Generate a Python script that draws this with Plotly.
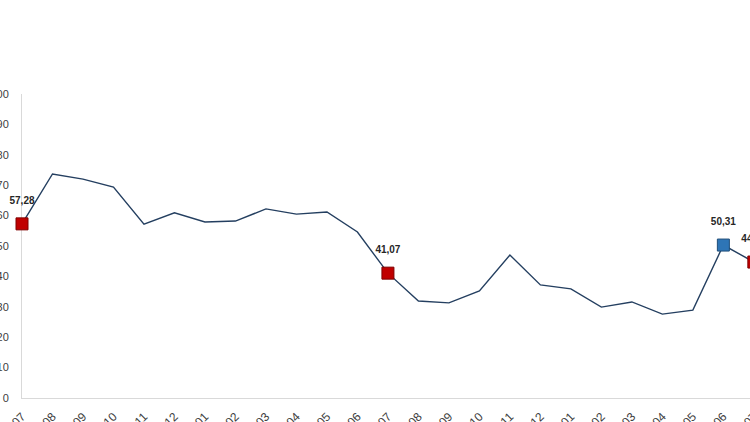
import plotly.graph_objects as go

# Period labels (only the month suffix is visible in the reference)
periods = ["2022-07", "2022-08", "2022-09", "2022-10", "2022-11", "2022-12",
           "2023-01", "2023-02", "2023-03", "2023-04", "2023-05", "2023-06",
           "2023-07", "2023-08", "2023-09", "2023-10", "2023-11", "2023-12",
           "2024-01", "2024-02", "2024-03", "2024-04", "2024-05", "2024-06",
           "2024-07"]
values = [57.28, 73.7, 72.0, 69.4, 57.2, 60.9, 57.9, 58.2, 62.2, 60.5, 61.2, 54.6,
          41.07, 31.9, 31.3, 35.2, 47.0, 37.2, 35.9, 29.9, 31.6, 27.6, 28.9,
          50.31, 44.72]

# Highlighted points: index and colour
highlight_idx = [0, 12, 23, 24]
highlight_fill = ["#C00000", "#C00000", "#2E75B6", "#C00000"]
highlight_edge = ["#7F0000", "#7F0000", "#1F4E79", "#7F0000"]

y_ticks = list(range(0, 101, 10))

x = list(range(len(periods)))

fig = go.Figure()

fig.add_trace(go.Scatter(
    x=x, y=values, mode="lines",
    line=dict(color="#243F60", width=1.4),
    hoverinfo="skip", showlegend=False,
))

hx = [x[i] for i in highlight_idx]
hy = [values[i] for i in highlight_idx]
fig.add_trace(go.Scatter(
    x=hx, y=hy, mode="markers",
    marker=dict(symbol="square", size=12, color=highlight_fill,
                line=dict(color=highlight_edge, width=1)),
    cliponaxis=False, showlegend=False, hoverinfo="skip",
))

# labels (invisible large marker pushes text up)
fig.add_trace(go.Scatter(
    x=hx, y=hy, mode="markers+text",
    marker=dict(size=26, color="rgba(0,0,0,0)"),
    text=[f"{v:.2f}".replace(".", ",") for v in hy],
    textposition="top center",
    textfont=dict(family="Liberation Sans, Arial, sans-serif", size=10,
                  color="#262626", weight="bold"),
    cliponaxis=False, showlegend=False, hoverinfo="skip",
))

fig.update_xaxes(
    range=[0, 24.3],
    tickmode="array", tickvals=x, ticktext=periods,
    tickangle=-45,
    tickfont=dict(family="Liberation Sans, Arial, sans-serif", size=12, color="#404040"),
    showgrid=False, zeroline=False,
    showline=True, linecolor="#D9D9D9", linewidth=1,
    ticks="", ticklabelstandoff=6, ticklabeloverflow="allow",
    layer="below traces",
)
fig.update_yaxes(
    range=[0, 100],
    tickmode="array", tickvals=y_ticks, ticktext=[str(t) for t in y_ticks],
    tickfont=dict(family="Liberation Sans, Arial, sans-serif", size=11, color="#404040"),
    showgrid=False, zeroline=False,
    showline=True, linecolor="#D9D9D9", linewidth=1,
    ticks="", ticklabelstandoff=10, ticklabeloverflow="allow",
    layer="below traces",
)

fig.update_layout(
    width=763, height=422,
    margin=dict(l=22, r=0, t=94, b=24, autoexpand=False),
    paper_bgcolor="white", plot_bgcolor="white",
    showlegend=False,
)

fig.write_html(
    "out.html",
    config={"displayModeBar": False},
    post_script="document.body.style.margin='0';document.body.style.overflow='hidden';",
)
